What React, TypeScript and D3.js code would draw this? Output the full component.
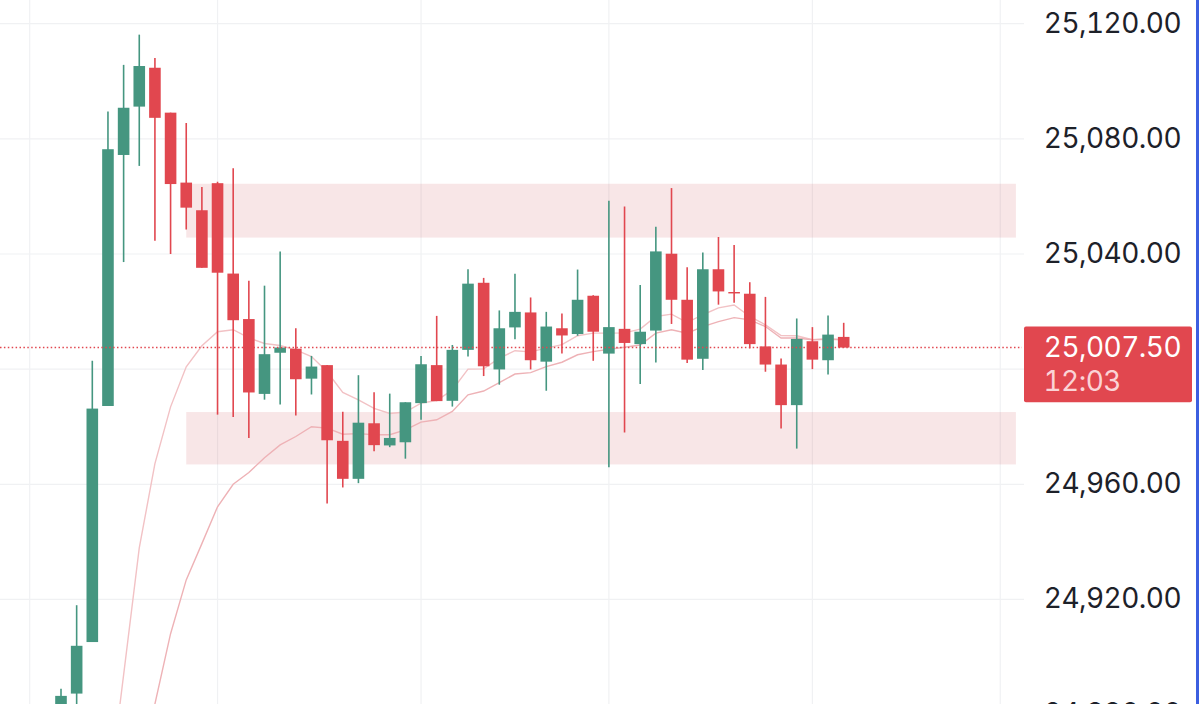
import React, { useEffect, useRef } from "react";
import * as d3 from "d3";

// candles, oldest first
const opens = [24872, 24887.3, 24905.2, 24987.2, 25074.4, 25091.2, 25104.7, 25089.1, 25064.8, 25055.2, 25064.6, 25033.2, 25017.4, 24991.4, 25005.7, 25007.1, 24996.7, 25001.4, 24975.1, 24961.9, 24981.2, 24973.5, 24974.6, 24988.2, 25001.4, 24989, 25006.7, 25030, 24999.9, 25014.5, 25019.7, 25002.6, 25014.2, 25012.2, 25025.5, 25005.4, 25014, 25008.7, 25013.4, 25040.1, 25024.1, 25003.6, 25034.7, 25026.8, 25026.2, 25007.9, 25001.6, 24987.5, 25009.7, 25003.1, 25011.2];
const highs = [24889, 24918, 25002.9, 25089.5, 25105.7, 25116.2, 25108.1, 25089.1, 25085.5, 25063.3, 25065.1, 25069.8, 25030.7, 25029, 25040.9, 25014.2, 25004.6, 25001.4, 24985.2, 24997.9, 24992, 24991.5, 24988.5, 25004.6, 25018.5, 25008.4, 25034.7, 25031.7, 25020.4, 25033.1, 25024.9, 25019.9, 25019.3, 25034.6, 25025.7, 25058.5, 25056.5, 25029.2, 25049.5, 25062.9, 25035.4, 25040.5, 25045.9, 25043.1, 25030.2, 25025.1, 25003.7, 25017.6, 25014.6, 25018.6, 25016.1];
const lows = [24868, 24878, 24905.2, 24987.2, 25037.2, 25070.6, 25044.6, 25040, 25048.5, 25035.2, 24984.2, 24983.4, 24976.1, 24989.4, 24987.7, 24983.9, 24991.2, 24953.3, 24958.9, 24960.4, 24971.5, 24972.9, 24968.9, 24982.4, 24988.9, 24987, 25004.4, 24997.6, 24994.6, 25010.4, 24999.9, 24992.5, 25005.4, 25011.6, 25002.9, 24965.9, 24978, 24994.8, 25002.3, 25015.7, 25002.1, 24999.7, 25022.4, 25023.1, 25007.2, 24999.1, 24979.4, 24972.4, 25000, 24998.1, 25007.5];
const closes = [24886.5, 24903.9, 24986.3, 25076.4, 25090.8, 25105.3, 25087.3, 25064.3, 25056.1, 25035.2, 25033.5, 25017, 24991.9, 25005.2, 25007.5, 24996.5, 25000.9, 24975.3, 24961.9, 24981.4, 24973.6, 24976.1, 24988.5, 25001.7, 24988.9, 25006.7, 25029.7, 25001, 25014.2, 25019.9, 25003.1, 25014.8, 25011.7, 25024.1, 25013, 25014.6, 25009.1, 25013, 25040.9, 25024.1, 25003.3, 25034.7, 25027, 25026.3, 25008.7, 25001.6, 24987.5, 25010.5, 25003.3, 25012, 25007.5];

// moving averages, starting at candle 3 and candle 5
const fastStart = 3;
const fastAvg = [24850, 24893.8, 24937.9, 24967.2, 24986.9, 25000.8, 25008.1, 25013, 25013.7, 25010.9, 25008.9, 25008.2, 25006.7, 25004.4, 24999.1, 24991.9, 24989.3, 24986.4, 24984.6, 24985.1, 24988.2, 24989.1, 24992.8, 25000, 25000.1, 25003.8, 25006.4, 25006, 25007.3, 25008.5, 25011.6, 25012.5, 25012.5, 25012.6, 25013.9, 25018.3, 25019.1, 25016.2, 25018.9, 25021.3, 25022.3, 25018.3, 25015.4, 25011.7, 25011.6, 25010.2, 25010.4, 25010.2];
const slowStart = 5;
const slowAvg = [24850, 24883.7, 24908.1, 24926.8, 24939.4, 24952.2, 24960, 24964.1, 24969.2, 24973.7, 24976.6, 24980, 24979.5, 24977.4, 24977.6, 24977.2, 24977.2, 24978.9, 24981.6, 24982.4, 24985.3, 24991.1, 24992.4, 24995.3, 24998.3, 24998.8, 25000.9, 25002.4, 25005, 25006.1, 25006.9, 25007.6, 25008.4, 25012.5, 25013.7, 25012.5, 25014.8, 25016.5, 25017.9, 25017.1, 25014.8, 25010.8, 25010.8, 25010.2, 25010.5, 25010.2];

// shaded zones [top, bottom]
const zones = [[25064.4, 25045.7], [24985.1, 24966.9]];
const zoneFrom = 8;
const zoneTo = 61;

const gridPrices = [25120, 25080, 25040, 25000, 24960, 24920, 24880];
// 25,000.00 sits behind the last price tag
const priceLabels = [25120, 25080, 25040, 24960, 24920, 24880];
const timeTicks = [-2, 10, 23, 35, 48, 60];
const lastPrice = 25007.5;
const countdown = "12:03";

const GREEN = "#459680";
const RED = "#e1474f";
const FONT = "Inter, sans-serif";
const FONT_SIZE = 28;

function App() {
  const svgRef = useRef<SVGSVGElement>(null);

  useEffect(() => {
    const width = 1200;
    const height = 704;
    const axisLeft = 1024;

    const svg = d3.select(svgRef.current)
      .attr("width", width)
      .attr("height", height)
      .style("position", "absolute")
      .style("left", 0)
      .style("top", 0)
      .style("background", "#ffffff")
      .style("font-variant-numeric", "tabular-nums")
      .style("letter-spacing", "-0.55px");
    svg.selectAll("*").remove();

    // candle index to pixels
    const x = d3.scaleLinear().domain([0, 50]).range([61, 843.7]);
    const y = d3.scaleLinear().domain([24880, 25120]).range([714.6, 23.7]);
    const fmt = d3.format(",.2f");

    // grid
    svg.selectAll(".hgrid").data(gridPrices).join("line")
      .attr("x1", 0).attr("x2", axisLeft)
      .attr("y1", d => y(d)).attr("y2", d => y(d))
      .attr("stroke", "#f0f1f3").attr("stroke-width", 1.2);
    svg.selectAll(".vgrid").data(timeTicks).join("line")
      .attr("x1", d => x(d)).attr("x2", d => x(d))
      .attr("y1", 0).attr("y2", height)
      .attr("stroke", "#f0f1f3").attr("stroke-width", 1.2);

    // zones
    svg.selectAll(".zone").data(zones).join("rect")
      .attr("x", x(zoneFrom)).attr("width", x(zoneTo) - x(zoneFrom))
      .attr("y", d => y(d[0])).attr("height", d => y(d[1]) - y(d[0]))
      .attr("fill", "#d04b58").attr("fill-opacity", 0.14);

    // averages
    const avgLine = (start: number) => d3.line<number>()
      .x((d, i) => x(i + start))
      .y(d => y(d));
    svg.append("path").attr("d", avgLine(fastStart)(fastAvg))
      .attr("fill", "none").attr("stroke", "#f2c2c5").attr("stroke-width", 1.4);
    svg.append("path").attr("d", avgLine(slowStart)(slowAvg))
      .attr("fill", "none").attr("stroke", "#eeb2b6").attr("stroke-width", 1.4);

    // candles
    const candles = d3.range(opens.length);
    const colour = (i: number) => closes[i] >= opens[i] ? GREEN : RED;
    svg.selectAll(".wick").data(candles).join("line")
      .attr("x1", i => x(i)).attr("x2", i => x(i))
      .attr("y1", i => y(highs[i])).attr("y2", i => y(lows[i]))
      .attr("stroke", colour).attr("stroke-width", 1.6);
    svg.selectAll(".body").data(candles).join("rect")
      .attr("x", i => x(i) - 5.8).attr("width", 11.6)
      .attr("y", i => y(Math.max(opens[i], closes[i])))
      .attr("height", i => Math.max(1.2, Math.abs(y(opens[i]) - y(closes[i]))))
      .attr("fill", colour);

    // last price line
    svg.append("line")
      .attr("x1", 0).attr("x2", axisLeft - 2)
      .attr("y1", y(lastPrice)).attr("y2", y(lastPrice))
      .attr("stroke", RED).attr("stroke-width", 1.4)
      .attr("stroke-dasharray", "1.5 2.4");

    // price axis
    svg.selectAll(".tick").data(priceLabels).join("text")
      .attr("x", 1181).attr("y", d => y(d) - 1.2)
      .attr("dy", "0.36em")
      .attr("text-anchor", "end")
      .attr("font-family", FONT).attr("font-size", FONT_SIZE)
      .attr("fill", "#1d2129")
      .text(d => fmt(d));

    // last price tag
    svg.append("rect")
      .attr("x", axisLeft).attr("y", y(lastPrice) - 21)
      .attr("width", 168).attr("height", 75.6).attr("rx", 2)
      .attr("fill", RED);
    svg.append("text")
      .attr("x", 1181).attr("y", y(lastPrice) - 1).attr("dy", "0.36em")
      .attr("text-anchor", "end")
      .attr("font-family", FONT).attr("font-size", FONT_SIZE)
      .attr("fill", "#ffffff")
      .text(fmt(lastPrice));
    svg.append("text")
      .attr("x", 1043.5).attr("y", y(lastPrice) + 33.2).attr("dy", "0.36em")
      .attr("font-family", FONT).attr("font-size", FONT_SIZE)
      .attr("fill", "#fbd3d6")
      .text(countdown);

    // window edge
    svg.append("rect")
      .attr("x", 1196).attr("y", 0).attr("width", 3).attr("height", height)
      .attr("fill", "#3c5fe0");
  }, []);

  return <svg ref={svgRef}></svg>;
}

export default App;
